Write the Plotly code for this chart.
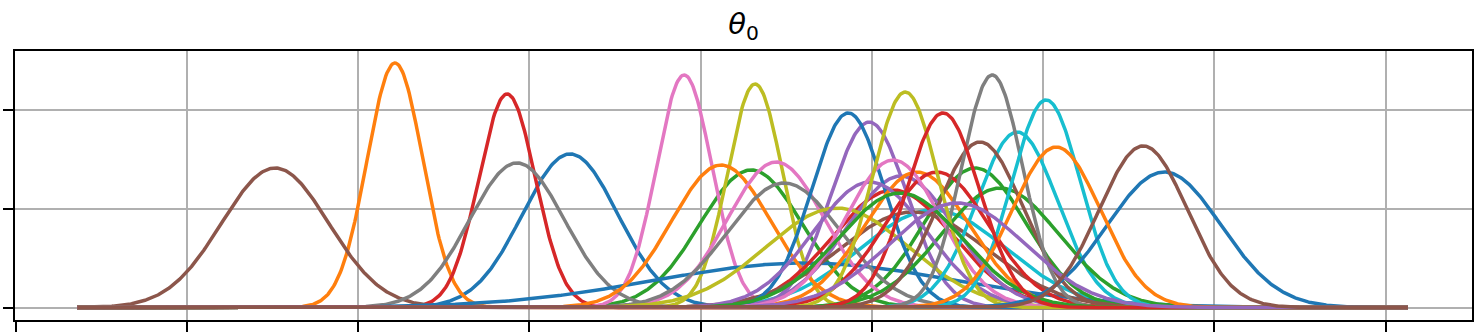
import numpy as np
import plotly.graph_objects as go

# Curve parameters (index order = drawing order)
means = [
    3.238, 2.215, 4.295, 2.870, 4.984, 1.515, 3.904, 2.928, 4.318, 5.358,
    4.610, 4.120, 5.603, 5.124, 5.170, 5.240, 4.441, 4.488, 4.797, 5.849,
    4.862, 5.265, 5.749, 5.380, 4.990, 5.632, 5.125, 5.703, 5.195, 6.018,
    6.707, 6.077, 5.165, 5.416, 5.498, 6.585,
]
peaks = [
    1.554, 2.475, 1.392, 2.161, 1.877, 1.412, 2.353, 1.463, 2.262, 0.987,
    0.450, 1.442, 1.412, 1.189, 1.330, 0.967, 1.472, 1.260, 1.007, 1.776,
    1.969, 1.371, 1.209, 1.371, 1.270, 1.675, 1.493, 2.353, 2.181, 2.100,
    1.371, 1.624, 1.159, 1.969, 1.058, 1.635,
]
sds = [
    0.279, 0.162, 0.300, 0.165, 0.223, 0.312, 0.162, 0.277, 0.160, 0.424,
    0.886, 0.290, 0.297, 0.352, 0.317, 0.433, 0.285, 0.332, 0.416, 0.236,
    0.213, 0.305, 0.347, 0.305, 0.330, 0.250, 0.279, 0.178, 0.192, 0.200,
    0.333, 0.258, 0.360, 0.213, 0.396, 0.257,
]
x_min, x_max = 0.36, 8.131
colors = ["#1f77b4", "#ff7f0e", "#2ca02c", "#d62728", "#9467bd",
          "#8c564b", "#e377c2", "#7f7f7f", "#bcbd22", "#17becf"]
title_text = "<i>θ</i><sub>0</sub>"

x = np.linspace(x_min, x_max, 1200)
fig = go.Figure()
for i, (m, h, s) in enumerate(zip(means, peaks, sds)):
    y = h * np.exp(-0.5 * ((x - m) / s) ** 2)
    fig.add_trace(go.Scatter(x=x, y=y, mode="lines",
                             line=dict(color=colors[i % 10], width=3.5),
                             showlegend=False, hoverinfo="skip"))

axis_common = dict(showticklabels=False, ticks="outside", ticklen=10, tickwidth=2,
                   tickcolor="black", showline=True, linecolor="black", linewidth=2,
                   mirror=True, showgrid=True, gridcolor="#b0b0b0", gridwidth=1.5,
                   zeroline=False, tick0=0, dtick=1, automargin=False)
fig.update_layout(
    width=1484, height=335,
    margin=dict(l=15, r=12, t=51, b=15, autoexpand=False),
    paper_bgcolor="white", plot_bgcolor="white",
    font=dict(family="DejaVu Sans", color="black"),
    title=dict(text=title_text, x=0.5, xanchor="center", xref="paper",
               y=1 - 24 / 335, yanchor="middle", yref="container", automargin=False,
               font=dict(family="DejaVu Sans", size=29, color="black")),
    xaxis=dict(range=[-0.004, 8.505], **axis_common),
    yaxis=dict(range=[-0.1265, 2.596], **axis_common),
)
fig.write_html("out.html")
